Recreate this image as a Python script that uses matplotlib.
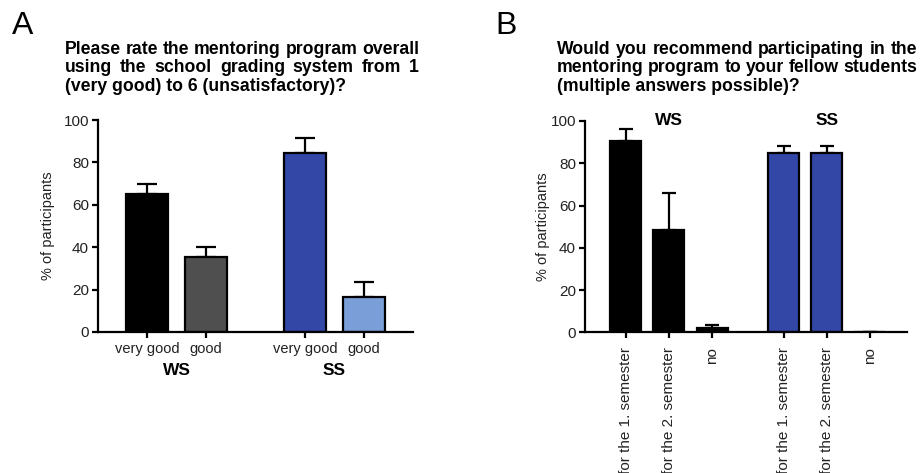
import matplotlib
matplotlib.use('Agg')
import matplotlib.pyplot as plt
import matplotlib.transforms as mtransforms

plt.rcParams['font.family'] = ['Liberation Sans', 'DejaVu Sans']

# panel A: overall grade
grade_labels = ['very good', 'good', 'very good', 'good']
grade_mean = [65.0, 35.5, 84.3, 16.4]
grade_err = [5.0, 4.8, 7.1, 7.3]
grade_colors = ['#000000', '#4f4f4f', '#3347a6', '#7a9ed8']
grade_groups = ['WS', 'SS']

# panel B: would recommend
rec_labels = ['for the 1. semester', 'for the 2. semester', 'no',
              'for the 1. semester', 'for the 2. semester', 'no']
rec_mean = [90.7, 48.4, 2.0, 84.7, 84.7, 0.0]
rec_err = [5.5, 17.4, 1.5, 3.6, 3.6, 0.0]
rec_colors = ['#000000', '#000000', '#000000', '#3347a6', '#3347a6', '#3347a6']
rec_groups = ['WS', 'SS']

title_a = ["Please rate the mentoring program overall",
           "using the school grading system from 1",
           "(very good) to 6 (unsatisfactory)?"]
title_b = ["Would you recommend participating in the",
           "mentoring program to your fellow students",
           "(multiple answers possible)?"]

LW = 1.6
W, H = 921, 473


def style_axes(ax):
    for s in ['top', 'right']:
        ax.spines[s].set_visible(False)
    for s in ['left', 'bottom']:
        ax.spines[s].set_linewidth(LW)
    ax.set_ylim(0, 100)
    ax.set_yticks([0, 20, 40, 60, 80, 100])
    ax.tick_params(axis='both', width=LW, length=4.5, labelsize=11, color='black',
                   labelcolor='#222222')
    ax.tick_params(axis='y', pad=2)
    ax.set_ylabel('% of participants', fontsize=10.5, color='#222222')


def draw_bars(ax, pos, mean, err, colors, capsize):
    ax.bar(pos, mean, width=0.72, color=colors, edgecolor='black', linewidth=LW, zorder=2)
    ax.errorbar(pos, mean, yerr=[[0] * len(err), err], fmt='none', ecolor='black',
                elinewidth=LW, capsize=capsize, capthick=LW, zorder=1)


def justified_text(fig, x0, baselines, lines, box_w, **kw):
    # block text with words spread to fill box_w (pixels), last line left aligned
    r = fig.canvas.get_renderer()
    for i, line in enumerate(lines):
        y = 1 - baselines[i] / H
        words = line.split()
        if i == len(lines) - 1 or len(words) < 2:
            fig.text(x0 / W, y, line, ha='left', va='baseline', **kw)
            continue
        widths = []
        for w in words:
            t = fig.text(0, 0, w, **kw)
            widths.append(t.get_window_extent(r).width)
            t.remove()
        gap = (box_w - sum(widths)) / (len(words) - 1)
        x = x0
        for w, wd in zip(words, widths):
            fig.text(x / W, y, w, ha='left', va='baseline', **kw)
            x += wd + gap


fig = plt.figure(figsize=(9.21, 4.73), dpi=100)

# --- A ---
axA = fig.add_axes([0.1064, 0.2981, 0.342, 0.4482])
posA = [0, 1, 2.7, 3.7]
draw_bars(axA, posA, grade_mean, grade_err, grade_colors, 7)
style_axes(axA)
axA.set_xlim(-0.84, 4.54)
axA.set_xticks(posA)
axA.set_xticklabels(grade_labels, fontsize=10.5)
axA.tick_params(axis='x', pad=3)
axA.yaxis.set_label_coords(-0.137, 0.5)
tA = mtransforms.blended_transform_factory(axA.transData, axA.transAxes)
axA.text((posA[0] + posA[1]) / 2, -0.18, grade_groups[0], transform=tA,
         ha='center', va='center', fontsize=12.5, weight='bold')
axA.text((posA[2] + posA[3]) / 2, -0.18, grade_groups[1], transform=tA,
         ha='center', va='center', fontsize=12.5, weight='bold')

# --- B ---
axB = fig.add_axes([0.6352, 0.2975, 0.3496, 0.4467])
posB = [0, 1, 2, 3.67, 4.67, 5.67]
draw_bars(axB, posB, rec_mean, rec_err, rec_colors, 4.7)
style_axes(axB)
axB.set_xlim(-0.95, 6.53)
axB.set_xticks(posB)
axB.set_xticklabels(rec_labels, fontsize=11, rotation=90)
axB.tick_params(axis='x', pad=6)
axB.yaxis.set_label_coords(-0.109, 0.5)
tB = mtransforms.blended_transform_factory(axB.transData, axB.transAxes)
axB.text(posB[1], 1.0, rec_groups[0], transform=tB, ha='center', va='center',
         fontsize=12.5, weight='bold')
axB.text(posB[4], 1.0, rec_groups[1], transform=tB, ha='center', va='center',
         fontsize=12.5, weight='bold')

# panel letters and questions
fig.text(12 / W, 1 - 11 / H, 'A', fontsize=23, va='top', ha='left')
fig.text(495 / W, 1 - 11 / H, 'B', fontsize=23, va='top', ha='left')
justified_text(fig, 65, [53.5, 72.2, 90.9], title_a, 354, fontsize=12.7, weight='bold')
justified_text(fig, 557, [53.5, 72.2, 90.9], title_b, 360, fontsize=12.7, weight='bold')

fig.savefig('out.png', dpi=100)
